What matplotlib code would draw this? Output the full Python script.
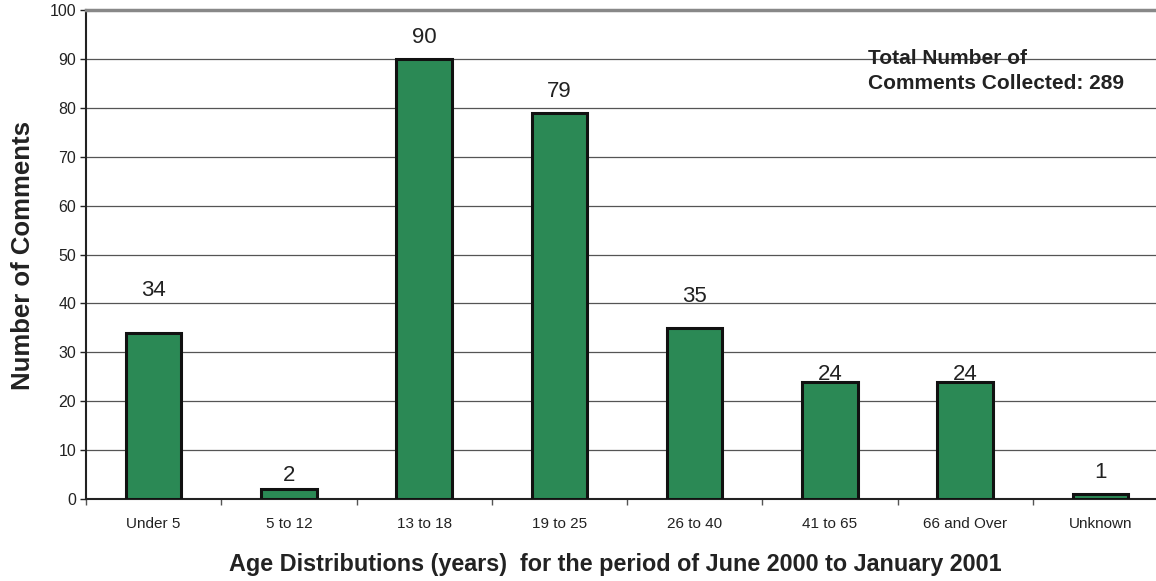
import matplotlib
matplotlib.use("Agg")
import matplotlib.pyplot as plt

plt.rcParams['font.family'] = ['Liberation Sans', 'DejaVu Sans']

categories = ["Under 5", "5 to 12", "13 to 18", "19 to 25", "26 to 40",
              "41 to 65", "66 and Over", "Unknown"]
comments = [34, 2, 90, 79, 35, 24, 24, 1]
total_comments = 289

# gap (points) between each bar top and the baseline of its value label
label_offsets = [26.6, 5.8, 11.5, 11.5, 18.7, 1.4, 1.4, 11.5]

fig = plt.figure(figsize=(11.56, 5.81), dpi=100)
ax = fig.add_axes([86 / 1156, 1 - 499 / 581, 1082 / 1156, 489 / 581])

x = range(len(categories))
ax.bar(x, comments, width=0.41, color='#2b8955', edgecolor='#111111',
       linewidth=2.2, zorder=3)

for xi, v, off in zip(x, comments, label_offsets):
    ax.annotate(str(v), (xi, v), xytext=(0, off), textcoords='offset points',
                ha='center', va='baseline', fontsize=16, color='#222222')

ax.set_xlim(-0.5, len(categories) - 0.5)
ax.set_ylim(0, 100)
ax.set_yticks(range(0, 101, 10))
ax.tick_params(axis='y', labelsize=11.5, length=4, width=1, pad=3, colors='#222222')
ax.set_xticks(x)
ax.set_xticklabels(categories, fontsize=11, color='#222222')
ax.tick_params(axis='x', length=0, pad=13)
ax.set_xticks([i - 0.5 for i in range(len(categories) + 1)], minor=True)
ax.tick_params(axis='x', which='minor', length=4, width=1, colors='#555555')

ax.yaxis.grid(True, color='#555555', linewidth=0.9, zorder=0)
ax.set_axisbelow(True)

ax.spines['right'].set_visible(False)
ax.spines['top'].set_color('#888888')
ax.spines['top'].set_linewidth(2.5)
ax.spines['left'].set_color('#222222')
ax.spines['left'].set_linewidth(1.5)
ax.spines['bottom'].set_color('#222222')
ax.spines['bottom'].set_linewidth(1.5)

ax.set_ylabel("Number of Comments", fontsize=18.5, fontweight='bold',
              color='#222222', va='center')
ax.yaxis.set_label_coords(-(86 - 23) / 1082, (499 - 255) / 489)
ax.set_xlabel("Age Distributions (years)  for the period of June 2000 to January 2001",
              fontsize=16.8, fontweight='bold', color='#222222', va='center')
ax.xaxis.set_label_coords((615 - 86) / 1082, -(565 - 499) / 489)

ax.text(5.285, 87.5, f"Total Number of\nComments Collected: {total_comments}",
        fontsize=15, fontweight='bold', color='#222222', ha='left', va='center',
        linespacing=1.4)

fig.savefig("out.png", dpi=100)
